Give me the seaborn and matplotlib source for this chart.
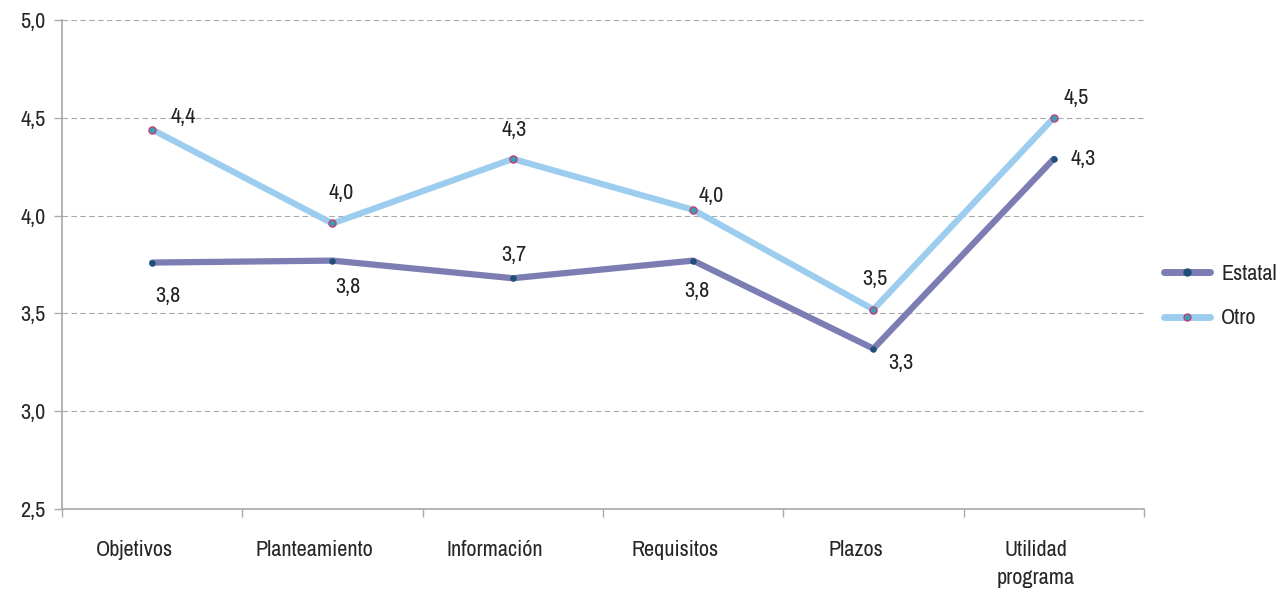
import matplotlib
matplotlib.use("Agg")
import matplotlib.pyplot as plt
import matplotlib.transforms as mtransforms
import seaborn as sns
import pandas as pd
from matplotlib.ticker import FixedLocator
from matplotlib.lines import Line2D
from matplotlib import font_manager

# Data
categories = ["Objetivos", "Planteamiento", "Información", "Requisitos", "Plazos", "Utilidad\nprograma"]
estatal = [3.76, 3.77, 3.68, 3.77, 3.32, 4.29]
otro = [4.44, 3.96, 4.29, 4.03, 3.52, 4.50]
estatal_labels = ["3,8", "3,8", "3,7", "3,8", "3,3", "4,3"]
otro_labels = ["4,4", "4,0", "4,3", "4,0", "3,5", "4,5"]

sns.set_theme(style="white")
names = sorted({f.name for f in font_manager.fontManager.ttflist})
narrow = [n for n in names if "Narrow" in n or "Condensed" in n]
plt.rcParams["font.family"] = narrow + ["DejaVu Sans"]
plt.rcParams["font.stretch"] = "condensed"

df = pd.DataFrame({
    "x": list(range(len(categories))) * 2,
    "valor": estatal + otro,
    "serie": ["Estatal"] * len(estatal) + ["Otro"] * len(otro),
})

fig = plt.figure(figsize=(12.8, 5.89), dpi=100)
ax = fig.add_axes([0.0484, 0.1358, 0.8453, 0.8302])

colors = {"Estatal": "#7b7db3", "Otro": "#9dcdee"}
sns.lineplot(data=df, x="x", y="valor", hue="serie", palette=colors,
             linewidth=4.5, ax=ax, legend=False, solid_capstyle="round")

# point markers
e = df[df.serie == "Estatal"]
o = df[df.serie == "Otro"]
ax.scatter(e.x, e.valor, s=22, color="#1f4e79", zorder=5, linewidths=0)
ax.scatter(o.x, o.valor, s=26, color="#3a9fb0", edgecolors="#c0407a", linewidths=1, zorder=5)

fs = 16
# value labels (offsets in points)
e_off = [(11, -24), (11, -19), (1, 17), (3, -22), (20, -10), (21, 0)]
o_off = [(22, 9), (6, 22), (1, 21), (13, 10), (1, 22), (16, 14)]
for i in range(len(categories)):
    ax.annotate(estatal_labels[i], (i, estatal[i]), xytext=e_off[i], textcoords="offset points",
                ha="center", va="center", fontsize=fs, color="#222222")
    ax.annotate(otro_labels[i], (i, otro[i]), xytext=o_off[i], textcoords="offset points",
                ha="center", va="center", fontsize=fs, color="#222222")

ax.set_xlim(-0.5, len(categories) - 0.5)
ax.set_ylim(2.5, 5.0)
ax.set_yticks([2.5, 3.0, 3.5, 4.0, 4.5, 5.0])
ax.set_yticklabels(["2,5", "3,0", "3,5", "4,0", "4,5", "5,0"], fontsize=fs)
ax.set_xticks(range(len(categories)))
ax.set_xticklabels(categories, fontsize=fs, va="top", linespacing=1.5)
ax.tick_params(axis="x", which="major", length=0, pad=22)
# category labels sit a little left of the points in the original
shift = mtransforms.ScaledTranslation(-0.18, 0, fig.dpi_scale_trans)
for lbl in ax.get_xticklabels():
    lbl.set_transform(lbl.get_transform() + shift)
ax.xaxis.set_minor_locator(FixedLocator([i - 0.5 for i in range(len(categories) + 1)]))
ax.tick_params(axis="x", which="minor", length=6, color="#aaaaaa", width=1, bottom=True)
ax.tick_params(axis="y", length=6, color="#aaaaaa", width=1, left=True, pad=6)
ax.grid(axis="y", linestyle=(0, (5, 3)), color="#aaaaaa", linewidth=0.8)
ax.set_xlabel("")
ax.set_ylabel("")
for s in ["top", "right"]:
    ax.spines[s].set_visible(False)
ax.spines["left"].set_color("#aaaaaa")
ax.spines["bottom"].set_color("#aaaaaa")

# legend
handles = [
    Line2D([0], [0], color=colors["Estatal"], lw=5, solid_capstyle="round",
           marker="o", markersize=5, markerfacecolor="#1f4e79", markeredgecolor="#1f4e79"),
    Line2D([0], [0], color=colors["Otro"], lw=5, solid_capstyle="round",
           marker="o", markersize=5, markerfacecolor="#3a9fb0", markeredgecolor="#c0407a"),
]
fig.legend(handles, ["Estatal", "Otro"], loc="center left", bbox_to_anchor=(0.909, 0.497),
           frameon=False, fontsize=fs, handlelength=2.1, labelspacing=1.1, handletextpad=0.5,
           borderpad=0, borderaxespad=0)

fig.savefig("out.png", dpi=100)
